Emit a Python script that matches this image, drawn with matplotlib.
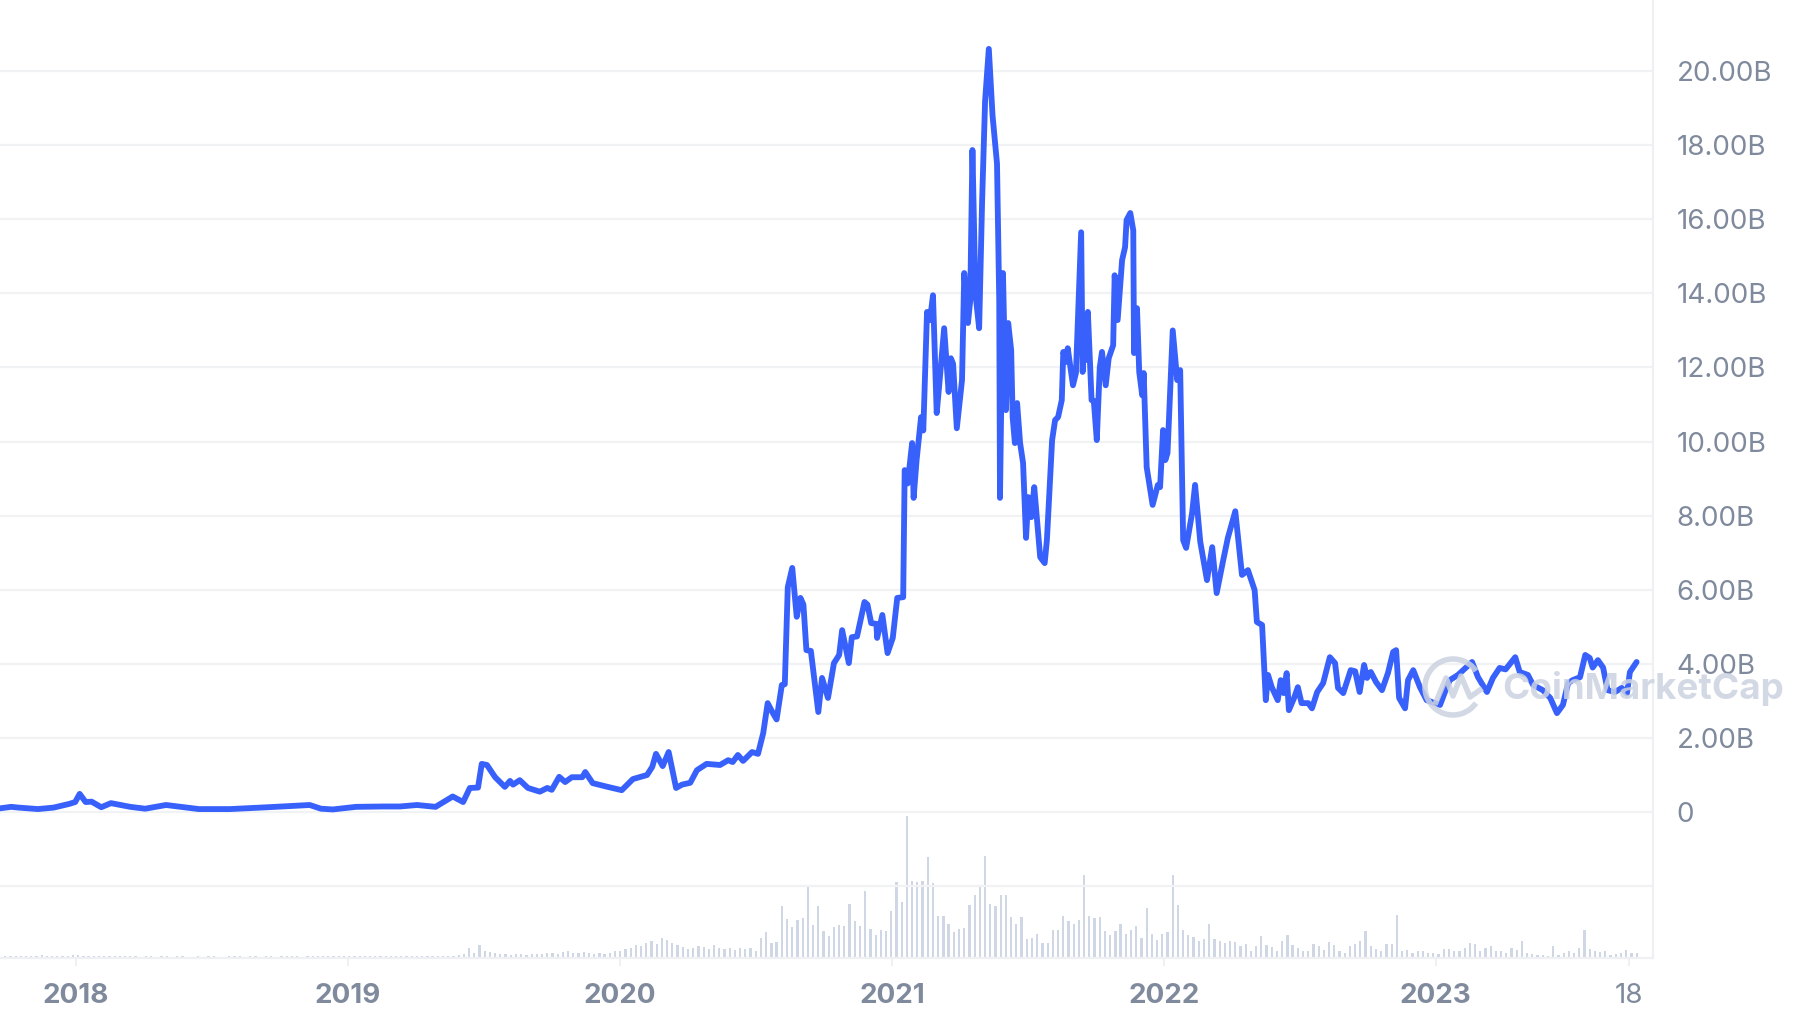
import numpy as np
import pandas as pd
import matplotlib
matplotlib.use('Agg')
import matplotlib.pyplot as plt
from matplotlib.patches import Arc

plt.rcParams['font.family'] = ['Inter', 'DejaVu Sans']

line_color = '#3861FB'
vol_color = '#CFD6E4'
grid_color = '#F1F2F4'
text_color = '#808A9D'

# market cap, billions USD
cap_dates = [
    '2017-09-21', '2017-10-06', '2017-10-16', '2017-11-11', '2017-12-02', '2017-12-23', '2017-12-31',
    '2018-01-06', '2018-01-14', '2018-01-22', '2018-02-04', '2018-02-17', '2018-03-15', '2018-04-04',
    '2018-05-02', '2018-06-15', '2018-07-27', '2018-09-16', '2018-11-11', '2018-11-26', '2018-12-12',
    '2019-01-12', '2019-02-17', '2019-03-12', '2019-04-04', '2019-04-29', '2019-05-22', '2019-06-05',
    '2019-06-14', '2019-06-25', '2019-06-30', '2019-07-07', '2019-07-18', '2019-07-31', '2019-08-07',
    '2019-08-11', '2019-08-20', '2019-08-31', '2019-09-16', '2019-09-26', '2019-10-02', '2019-10-12',
    '2019-10-20', '2019-10-29', '2019-11-12', '2019-11-16', '2019-11-26', '2019-12-16', '2020-01-04',
    '2020-01-19', '2020-02-07', '2020-02-14', '2020-02-19', '2020-02-28', '2020-03-07', '2020-03-17',
    '2020-03-25', '2020-04-05', '2020-04-14', '2020-04-27', '2020-05-15', '2020-05-26', '2020-06-01',
    '2020-06-08', '2020-06-15', '2020-06-27', '2020-07-05', '2020-07-12', '2020-07-18', '2020-07-25',
    '2020-07-30', '2020-08-06', '2020-08-10', '2020-08-14', '2020-08-20', '2020-08-26', '2020-08-31',
    '2020-09-04', '2020-09-08', '2020-09-14', '2020-09-24', '2020-09-29', '2020-10-07', '2020-10-15',
    '2020-10-22', '2020-10-26', '2020-11-04', '2020-11-08', '2020-11-15', '2020-11-25', '2020-11-29',
    '2020-12-04', '2020-12-11', '2020-12-12', '2020-12-19', '2020-12-26', '2021-01-02', '2021-01-08',
    '2021-01-16', '2021-01-18', '2021-01-22', '2021-01-28', '2021-01-30', '2021-02-03', '2021-02-09',
    '2021-02-12', '2021-02-17', '2021-02-21', '2021-02-25', '2021-03-02', '2021-03-06', '2021-03-12',
    '2021-03-18', '2021-03-21', '2021-03-24', '2021-03-29', '2021-04-05', '2021-04-08', '2021-04-13',
    '2021-04-16', '2021-04-19', '2021-04-23', '2021-04-28', '2021-05-02', '2021-05-06', '2021-05-11',
    '2021-05-16', '2021-05-22', '2021-05-25', '2021-05-26', '2021-05-30', '2021-06-03', '2021-06-06',
    '2021-06-10', '2021-06-12', '2021-06-15', '2021-06-18', '2021-06-22', '2021-06-26', '2021-06-30',
    '2021-07-03', '2021-07-07', '2021-07-11', '2021-07-19', '2021-07-25', '2021-07-28', '2021-08-04',
    '2021-08-08', '2021-08-12', '2021-08-17', '2021-08-19', '2021-08-23', '2021-08-25', '2021-09-01',
    '2021-09-05', '2021-09-12', '2021-09-14', '2021-09-17', '2021-09-20', '2021-09-21', '2021-09-26',
    '2021-09-29', '2021-10-03', '2021-10-07', '2021-10-10', '2021-10-15', '2021-10-19', '2021-10-25',
    '2021-10-27', '2021-10-31', '2021-11-06', '2021-11-10', '2021-11-12', '2021-11-17', '2021-11-21',
    '2021-11-22', '2021-11-26', '2021-11-29', '2021-12-03', '2021-12-05', '2021-12-09', '2021-12-17',
    '2021-12-24', '2021-12-27', '2021-12-31', '2022-01-03', '2022-01-06', '2022-01-13', '2022-01-19',
    '2022-01-23', '2022-01-27', '2022-01-31', '2022-02-08', '2022-02-12', '2022-02-19', '2022-02-28',
    '2022-03-07', '2022-03-13', '2022-03-21', '2022-03-28', '2022-04-07', '2022-04-16', '2022-04-24',
    '2022-05-03', '2022-05-06', '2022-05-13', '2022-05-18', '2022-05-21', '2022-05-26', '2022-06-03',
    '2022-06-07', '2022-06-11', '2022-06-15', '2022-06-18', '2022-06-25', '2022-06-30', '2022-07-05',
    '2022-07-14', '2022-07-19', '2022-07-26', '2022-08-03', '2022-08-12', '2022-08-19', '2022-08-23',
    '2022-08-30', '2022-09-09', '2022-09-15', '2022-09-21', '2022-09-27', '2022-10-01', '2022-10-06',
    '2022-10-13', '2022-10-21', '2022-10-29', '2022-11-05', '2022-11-09', '2022-11-13', '2022-11-21',
    '2022-11-25', '2022-12-02', '2022-12-11', '2022-12-20', '2023-01-07', '2023-01-16', '2023-01-20',
    '2023-01-31', '2023-02-19', '2023-02-27', '2023-03-11', '2023-03-19', '2023-03-28', '2023-04-05',
    '2023-04-18', '2023-04-24', '2023-05-05', '2023-05-12', '2023-05-25', '2023-06-04', '2023-06-13',
    '2023-06-21', '2023-06-28', '2023-07-04', '2023-07-14', '2023-07-21', '2023-07-27', '2023-07-31',
    '2023-08-07', '2023-08-14', '2023-08-20', '2023-08-30', '2023-09-08', '2023-09-15', '2023-09-19',
    '2023-09-28',
]
cap_values = [
    0.10, 0.14, 0.12, 0.08, 0.12, 0.22, 0.27,
    0.49, 0.27, 0.28, 0.13, 0.24, 0.14, 0.09,
    0.19, 0.08, 0.08, 0.13, 0.19, 0.09, 0.07,
    0.14, 0.15, 0.15, 0.19, 0.14, 0.42, 0.27,
    0.65, 0.66, 1.30, 1.27, 0.94, 0.68, 0.84,
    0.74, 0.86, 0.65, 0.55, 0.65, 0.60, 0.95,
    0.81, 0.94, 0.94, 1.08, 0.78, 0.68, 0.59,
    0.89, 1.00, 1.22, 1.57, 1.24, 1.62, 0.65,
    0.74, 0.79, 1.13, 1.30, 1.27, 1.40, 1.35,
    1.54, 1.38, 1.62, 1.57, 2.13, 2.94, 2.67,
    2.50, 3.43, 3.45, 6.07, 6.59, 5.27, 5.78,
    5.60, 4.37, 4.35, 2.70, 3.62, 3.08, 4.02,
    4.24, 4.91, 4.02, 4.72, 4.74, 5.67, 5.60,
    5.10, 5.08, 4.70, 5.32, 4.29, 4.70, 5.78,
    5.80, 9.23, 8.87, 9.96, 8.48, 9.50, 10.66,
    10.30, 13.50, 13.28, 13.95, 10.77, 11.66, 13.06,
    11.34, 12.25, 12.10, 10.36, 11.66, 14.55, 13.20,
    13.80, 17.87, 14.00, 13.06, 16.50, 19.20, 20.60,
    18.80, 17.50, 13.80, 8.48, 14.55, 10.85, 13.20,
    12.47, 10.66, 9.96, 11.04, 9.96, 9.42, 7.40,
    8.50, 7.96, 8.77, 6.88, 6.72, 7.34, 10.04,
    10.58, 10.66, 11.12, 12.42, 12.15, 12.52, 11.52,
    11.85, 15.65, 11.88, 13.28, 12.20, 13.50, 11.12,
    11.10, 10.04, 12.00, 12.42, 11.52, 12.25, 12.60,
    14.49, 13.28, 14.90, 15.25, 15.98, 16.17, 15.70,
    12.39, 13.60, 11.88, 11.25, 11.85, 9.31, 8.29,
    8.83, 8.77, 10.31, 9.50, 9.69, 13.00, 11.66,
    11.93, 7.34, 7.13, 8.07, 8.83, 7.29, 6.26,
    7.15, 5.91, 6.72, 7.40, 8.12, 6.40, 6.53,
    5.99, 5.13, 5.05, 3.02, 3.70, 3.37, 3.02,
    3.56, 3.21, 3.75, 2.75, 3.08, 3.37, 2.94,
    2.94, 2.80, 3.24, 3.48, 4.18, 4.02, 3.35,
    3.21, 3.83, 3.80, 3.24, 3.97, 3.62, 3.78,
    3.51, 3.29, 3.75, 4.32, 4.37, 3.08, 2.80,
    3.56, 3.83, 3.37, 3.02, 2.89, 3.37, 3.56,
    3.70, 4.05, 3.64, 3.24, 3.62, 3.89, 3.85,
    4.18, 3.78, 3.70, 3.43, 3.29, 3.08, 2.67,
    2.89, 3.48, 3.56, 3.64, 4.24, 4.16, 3.90,
    4.10, 3.90, 3.29, 3.24, 3.35, 3.20, 3.78,
    4.05,
]

# weekly trading volume, billions USD, first week starting 2017-09-21
vol_start = '2017-09-21'
vol_values = [
    0.06, 0.07, 0.08, 0.07, 0.08, 0.09, 0.08, 0.10, 0.12, 0.09, 0.08, 0.08, 0.07,
    0.09, 0.11, 0.12, 0.10, 0.09, 0.08, 0.08, 0.07, 0.08, 0.07, 0.07, 0.08, 0.07,
    0.07, 0.06, 0.07, 0.07, 0.06, 0.07, 0.07, 0.06, 0.07, 0.07, 0.06, 0.06, 0.07,
    0.06, 0.07, 0.07, 0.06, 0.06, 0.07, 0.08, 0.07, 0.06, 0.07, 0.07, 0.06, 0.07,
    0.07, 0.06, 0.07, 0.07, 0.08, 0.07, 0.06, 0.07, 0.07, 0.07, 0.08, 0.07, 0.07,
    0.07, 0.08, 0.07, 0.07, 0.08, 0.08, 0.07, 0.08, 0.08, 0.07, 0.08, 0.08, 0.08,
    0.08, 0.07, 0.08, 0.08, 0.09, 0.08, 0.08, 0.09, 0.10, 0.09,
    0.12, 0.16, 0.40, 0.20, 0.52, 0.28, 0.24, 0.20, 0.16, 0.18, 0.14, 0.16, 0.15,
    0.14, 0.16, 0.18, 0.16, 0.20, 0.22, 0.18, 0.24, 0.28, 0.22, 0.20, 0.24, 0.22, 0.18, 0.20,
    0.18, 0.22, 0.30, 0.28, 0.36, 0.40, 0.52, 0.48, 0.60, 0.68, 0.56, 0.80, 0.72, 0.60, 0.52,
    0.44, 0.36, 0.40, 0.48, 0.44, 0.38, 0.52, 0.42, 0.36, 0.40, 0.34, 0.40, 0.36, 0.40, 0.30,
    0.80, 1.04, 0.60, 0.64, 2.08, 1.56, 1.24, 1.52, 1.60, 2.84, 1.32, 2.08, 1.08, 0.88, 1.24,
    1.32, 1.28, 2.16, 1.48, 1.28, 2.68, 1.16, 0.92, 1.12, 1.08, 1.88, 3.04, 2.24, 5.68, 3.08,
    3.04, 3.08, 4.04, 3.00, 1.68, 1.68, 1.36, 1.04, 1.16, 1.20, 2.12, 2.52, 2.84, 4.08, 2.16,
    2.08, 2.52, 2.52, 1.64, 1.36, 1.64, 0.76, 0.80, 0.96, 0.60, 0.60, 1.12, 1.12, 1.68, 1.48,
    1.36, 1.52, 3.32, 1.68, 1.60, 1.64, 1.08, 0.92, 1.08, 1.36, 0.96, 1.12, 1.28, 0.80, 2.00,
    0.96, 0.72, 0.96, 1.04,
    3.32, 2.12, 1.12, 0.92, 0.84, 0.68, 0.76, 1.36, 0.76, 0.68, 0.60, 0.68, 0.64, 0.48, 0.56,
    0.30, 0.48, 0.88, 0.52, 0.44, 0.30, 0.68, 0.92, 0.52, 0.40, 0.28, 0.28, 0.56, 0.48, 0.32,
    0.64, 0.52, 0.28, 0.20, 0.48, 0.56, 0.68, 1.08, 0.48, 0.36, 0.28, 0.56, 0.56, 1.72, 0.28,
    0.32, 0.20, 0.28, 0.28, 0.20, 0.20, 0.16, 0.36, 0.36, 0.28, 0.28, 0.40, 0.60, 0.56, 0.28,
    0.40, 0.48, 0.28, 0.28, 0.20, 0.40, 0.32, 0.68, 0.20, 0.16, 0.12, 0.12, 0.10, 0.48, 0.12,
    0.20, 0.28, 0.20, 0.40, 1.12, 0.36, 0.28, 0.24, 0.28, 0.12, 0.16, 0.20, 0.32, 0.20, 0.20,
]

ytick_values = [-2, 0, 2, 4, 6, 8, 10, 12, 14, 16, 18, 20]
ytick_labels = ['', '0', '2.00B', '4.00B', '6.00B', '8.00B', '10.00B',
                '12.00B', '14.00B', '16.00B', '18.00B', '20.00B']
xtick_dates = ['2018-01-01', '2019-01-01', '2020-01-01', '2021-01-01',
               '2022-01-01', '2023-01-01', '2023-09-18']
xtick_labels = ['2018', '2019', '2020', '2021', '2022', '2023', '18']

cap_x = pd.to_datetime(cap_dates)
vol_x = pd.date_range(vol_start, periods=len(vol_values), freq='7D')

W, H = 1797, 1026
fig = plt.figure(figsize=(W / 100, H / 100), dpi=100)
fig.patch.set_facecolor('white')
ax = fig.add_axes([0, 68 / H, 1653 / W, 958 / H])
ax.set_facecolor('none')

# volume bars in the strip under the zero line (twin made first, it resets tick sides)
axv = ax.twinx()
axv.bar(vol_x, vol_values, width=3, color=vol_color, zorder=1)
axv.set_ylim(0, 958 / 25)
axv.axis('off')
axv.set_zorder(0)
ax.set_zorder(1)

ax.plot(cap_x, cap_values, color=line_color, lw=4.2, solid_joinstyle='round',
        solid_capstyle='round', zorder=5)
ax.set_xlim(pd.Timestamp('2017-09-21'), pd.Timestamp('2023-10-20'))
ax.set_ylim(-3.94, 21.92)

ax.set_yticks(ytick_values)
ax.set_yticklabels(ytick_labels)
ax.yaxis.tick_right()
ax.grid(axis='y', color=grid_color, lw=1.6)
ax.set_axisbelow(True)
ax.tick_params(axis='y', length=0, pad=17, labelsize=20, labelcolor=text_color)

ax.set_xticks(pd.to_datetime(xtick_dates))
ax.set_xticklabels(xtick_labels)
ax.tick_params(axis='x', length=6, width=1.5, color='#EEF0F3', pad=12,
               labelsize=20, labelcolor=text_color)
for lab in ax.get_xticklabels():
    lab.set_fontweight('normal' if lab.get_text() == '18' else 'bold')

for s in ['top', 'left']:
    ax.spines[s].set_visible(False)
for s in ['right', 'bottom']:
    ax.spines[s].set_color('#EEF0F3')
    ax.spines[s].set_linewidth(1.6)

# CoinMarketCap watermark
ov = fig.add_axes([0, 0, 1, 1])
ov.set_zorder(3)
ov.set_xlim(0, W)
ov.set_ylim(H, 0)
ov.axis('off')
wm = '#CBD3E1'
ov.add_patch(Arc((1453, 687), 56, 56, theta1=35, theta2=325, color=wm, lw=4, alpha=0.85))
ov.plot([1436, 1446, 1453, 1461, 1470, 1480], [702, 678, 696, 676, 697, 690],
        color=wm, lw=4, alpha=0.85, solid_joinstyle='round')
ov.text(1502, 688, 'CoinMarketCap', fontsize=26.5, fontweight='bold', color=wm,
        alpha=0.85, va='center', ha='left')

fig.savefig('out.png', dpi=100)
